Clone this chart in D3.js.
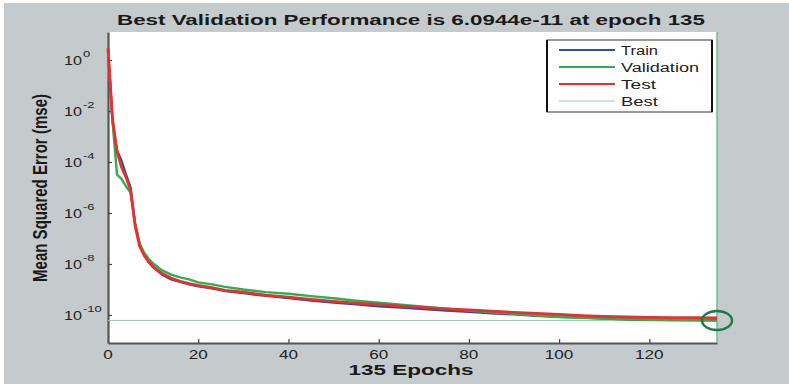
<!DOCTYPE html>
<html>
<head>
<meta charset="utf-8">
<script src="https://cdn.jsdelivr.net/npm/d3@7"></script>
<style>
  html, body { margin: 0; padding: 0; background: #ffffff; }
  svg { display: block; font-family: "Liberation Sans", Arial, sans-serif; }
</style>
</head>
<body>
<svg id="perf" width="789" height="384"></svg>
<script>
var epochs = [0, 1, 2, 3, 4, 5, 6, 7, 8, 9, 10, 12, 14, 16, 18, 20, 23, 26, 30, 35, 40, 45, 50, 55, 60, 65, 70, 75, 80, 85, 90, 95, 100, 105, 110, 115, 120, 125, 130, 135]

var trainMse = [2.5, 4.0e-3, 2.8e-4, 1.12e-4, 3.2e-5, 1.0e-5, 4.0e-7, 6.3e-8, 2.2e-8, 1.17e-8, 7.4e-9, 3.8e-9, 2.5e-9, 2.0e-9, 1.58e-9, 1.32e-9, 1.1e-9, 8.7e-10, 7.2e-10, 5.6e-10, 4.6e-10, 3.7e-10, 3.1e-10, 2.6e-10, 2.2e-10, 1.95e-10, 1.7e-10, 1.48e-10, 1.32e-10, 1.17e-10, 1.05e-10, 9.3e-11, 8.5e-11, 7.9e-11, 7.2e-11, 6.8e-11, 6.5e-11, 6.3e-11, 6.3e-11, 6.2e-11]

var validationMse = [2.5, 4.0e-3, 3.2e-5, 2.2e-5, 1.1e-5, 6.3e-6, 4.0e-7, 6.3e-8, 2.8e-8, 1.6e-8, 1.05e-8, 5.6e-9, 3.8e-9, 3.0e-9, 2.5e-9, 1.9e-9, 1.58e-9, 1.26e-9, 1.0e-9, 7.9e-10, 6.8e-10, 5.5e-10, 4.5e-10, 3.6e-10, 3.0e-10, 2.5e-10, 2.1e-10, 1.78e-10, 1.48e-10, 1.26e-10, 1.1e-10, 9.5e-11, 8.3e-11, 7.8e-11, 7.2e-11, 6.8e-11, 6.5e-11, 6.3e-11, 6.2e-11, 6.0944e-11]

var testMse = [2.95, 5.0e-3, 2.5e-4, 6.3e-5, 2.5e-5, 7.9e-6, 3.2e-7, 5.0e-8, 2.2e-8, 1.26e-8, 7.9e-9, 4.2e-9, 2.8e-9, 2.1e-9, 1.7e-9, 1.45e-9, 1.17e-9, 9.3e-10, 7.8e-10, 6.0e-10, 5.0e-10, 4.1e-10, 3.4e-10, 2.9e-10, 2.6e-10, 2.24e-10, 2.0e-10, 1.74e-10, 1.58e-10, 1.41e-10, 1.26e-10, 1.15e-10, 1.05e-10, 9.5e-11, 8.7e-11, 8.3e-11, 8.1e-11, 7.9e-11, 7.8e-11, 7.6e-11]

var bestEpoch = 135
var bestMse = 6.0944e-11

var xTicks = [0, 20, 40, 60, 80, 100, 120]
var yTickExps = [0, -2, -4, -6, -8, -10]

var legendNames = ["Train", "Validation", "Test", "Best"]
var legendColors = ["#2d4f9e", "#2fb050", "#e8302f", "#9fc4b4"]

var svg = d3.select("#perf")
var plotLeft = 108, plotRight = 717, plotTop = 32, plotBottom = 343
var stretch = 1.45   // the original picture is squeezed wide

// grey figure background with a thin white margin
svg.append("rect").attr("x", 4).attr("y", 3).attr("width", 785).attr("height", 381).attr("fill", "#c5cacd")
svg.append("rect").attr("x", plotLeft).attr("y", plotTop).attr("width", plotRight - plotLeft).attr("height", plotBottom - plotTop).attr("fill", "#ffffff")

var x = d3.scaleLinear().domain([0, 135]).range([plotLeft, plotRight])
var y = d3.scaleLog().domain([Math.pow(10, -11.1), Math.pow(10, 1.1)]).range([plotBottom, plotTop])

// axes (ticks point inward, like matlab)
var xAxis = svg.append("g")
    .attr("transform", "translate(0," + plotBottom + ")")
    .call(d3.axisBottom(x).tickValues(xTicks).tickSizeInner(-4).tickSizeOuter(0).tickFormat(""))
xAxis.select(".domain").attr("stroke", "#555").attr("stroke-width", 2)
xAxis.selectAll(".tick line").attr("stroke", "#444").attr("stroke-width", 1.2)

var yAxis = svg.append("g")
    .attr("transform", "translate(" + plotLeft + ",0)")
    .call(d3.axisLeft(y).tickValues(yTickExps.map(e => Math.pow(10, e))).tickSizeInner(-4).tickSizeOuter(0).tickFormat(""))
yAxis.select(".domain").attr("stroke", "#555").attr("stroke-width", 2.2)
yAxis.selectAll(".tick line").attr("stroke", "#444").attr("stroke-width", 1.2)

// x tick labels
svg.append("g")
    .selectAll("text")
    .data(xTicks)
    .enter().append("text")
    .attr("x", d => x(d))
    .attr("y", 358.5)
    .attr("text-anchor", "middle")
    .attr("font-size", 13)
    .attr("fill", "#222")
    .attr("textLength", d => String(d).length * 9.5)
    .attr("lengthAdjust", "spacingAndGlyphs")
    .text(d => d)

// y tick labels 10^n
var yLab = svg.append("g").selectAll("g")
    .data(yTickExps)
    .enter().append("g")
    .attr("transform", d => "translate(0," + y(Math.pow(10, d)) + ")")

yLab.append("text")
    .attr("x", 64)
    .attr("y", 5)
    .attr("font-size", 13.5)
    .attr("fill", "#222")
    .attr("textLength", 18)
    .attr("lengthAdjust", "spacingAndGlyphs")
    .text("10")

yLab.append("text")
    .attr("transform", "translate(83,-3) scale(" + stretch + ",1)")
    .attr("font-size", 9)
    .attr("fill", "#222")
    .text(d => d === 0 ? "0" : "-" + Math.abs(d))

// best lines
svg.append("line")
    .attr("x1", plotLeft).attr("x2", plotRight)
    .attr("y1", y(bestMse)).attr("y2", y(bestMse))
    .attr("stroke", "#9fc4b4").attr("stroke-width", 1)
svg.append("line")
    .attr("x1", x(bestEpoch)).attr("x2", x(bestEpoch))
    .attr("y1", plotTop).attr("y2", plotBottom)
    .attr("stroke", "#6cc08b").attr("stroke-width", 1.5)

// curves
var series = [
    { name: "Train", values: trainMse, color: legendColors[0], w: 2.4 },
    { name: "Validation", values: validationMse, color: legendColors[1], w: 2.4 },
    { name: "Test", values: testMse, color: legendColors[2], w: 2.8 }
]

var line = d3.line()
    .x((d, i) => x(epochs[i]))
    .y(d => y(d))

svg.append("g")
    .selectAll("path")
    .data(series)
    .enter().append("path")
    .attr("d", d => line(d.values))
    .attr("fill", "none")
    .attr("stroke", d => d.color)
    .attr("stroke-width", d => d.w)
    .attr("stroke-linejoin", "round")

// best point circle
svg.append("ellipse")
    .attr("cx", x(bestEpoch))
    .attr("cy", y(bestMse))
    .attr("rx", 15)
    .attr("ry", 9.5)
    .attr("fill", "none")
    .attr("stroke", "#1f7a45")
    .attr("stroke-width", 2.4)

// legend
var lg = svg.append("g")
lg.append("rect")
    .attr("x", 547).attr("y", 40).attr("width", 165).attr("height", 72)
    .attr("fill", "#ffffff").attr("stroke", "#333").attr("stroke-width", 1)
lg.append("line").attr("x1", 547).attr("x2", 547).attr("y1", 40).attr("y2", 112).attr("stroke", "#111").attr("stroke-width", 2)
lg.append("line").attr("x1", 712).attr("x2", 712).attr("y1", 40).attr("y2", 112).attr("stroke", "#111").attr("stroke-width", 2)

var legendWidths = [37, 78, 35, 37]
var entries = lg.selectAll(".entry")
    .data(legendNames)
    .enter().append("g")
    .attr("class", "entry")
    .attr("transform", (d, i) => "translate(0," + (50 + i * 17) + ")")

entries.append("line")
    .attr("x1", 559).attr("x2", 615)
    .attr("stroke", (d, i) => legendColors[i])
    .attr("stroke-width", (d, i) => i === 3 ? 1 : 2.2)

entries.append("text")
    .attr("x", 621)
    .attr("y", 4.5)
    .attr("font-size", 12.5)
    .attr("fill", "#222")
    .attr("textLength", (d, i) => legendWidths[i])
    .attr("lengthAdjust", "spacingAndGlyphs")
    .text(d => d)

// title and axis labels
svg.append("text")
    .attr("x", 411).attr("y", 25)
    .attr("text-anchor", "middle")
    .attr("font-size", 14.5).attr("font-weight", "bold")
    .attr("fill", "#1a1a1a")
    .attr("textLength", 588).attr("lengthAdjust", "spacingAndGlyphs")
    .text("Best Validation Performance is 6.0944e-11 at epoch 135")

svg.append("text")
    .attr("x", 411).attr("y", 375)
    .attr("text-anchor", "middle")
    .attr("font-size", 15).attr("font-weight", "bold")
    .attr("fill", "#1a1a1a")
    .attr("textLength", 125).attr("lengthAdjust", "spacingAndGlyphs")
    .text("135 Epochs")

svg.append("text")
    .attr("transform", "translate(47,188) scale(" + stretch + ",1) rotate(-90)")
    .attr("text-anchor", "middle")
    .attr("font-size", 14.5).attr("font-weight", "bold")
    .attr("fill", "#1a1a1a")
    .attr("textLength", 188).attr("lengthAdjust", "spacingAndGlyphs")
    .text("Mean Squared Error  (mse)")
</script>
</body>
</html>
